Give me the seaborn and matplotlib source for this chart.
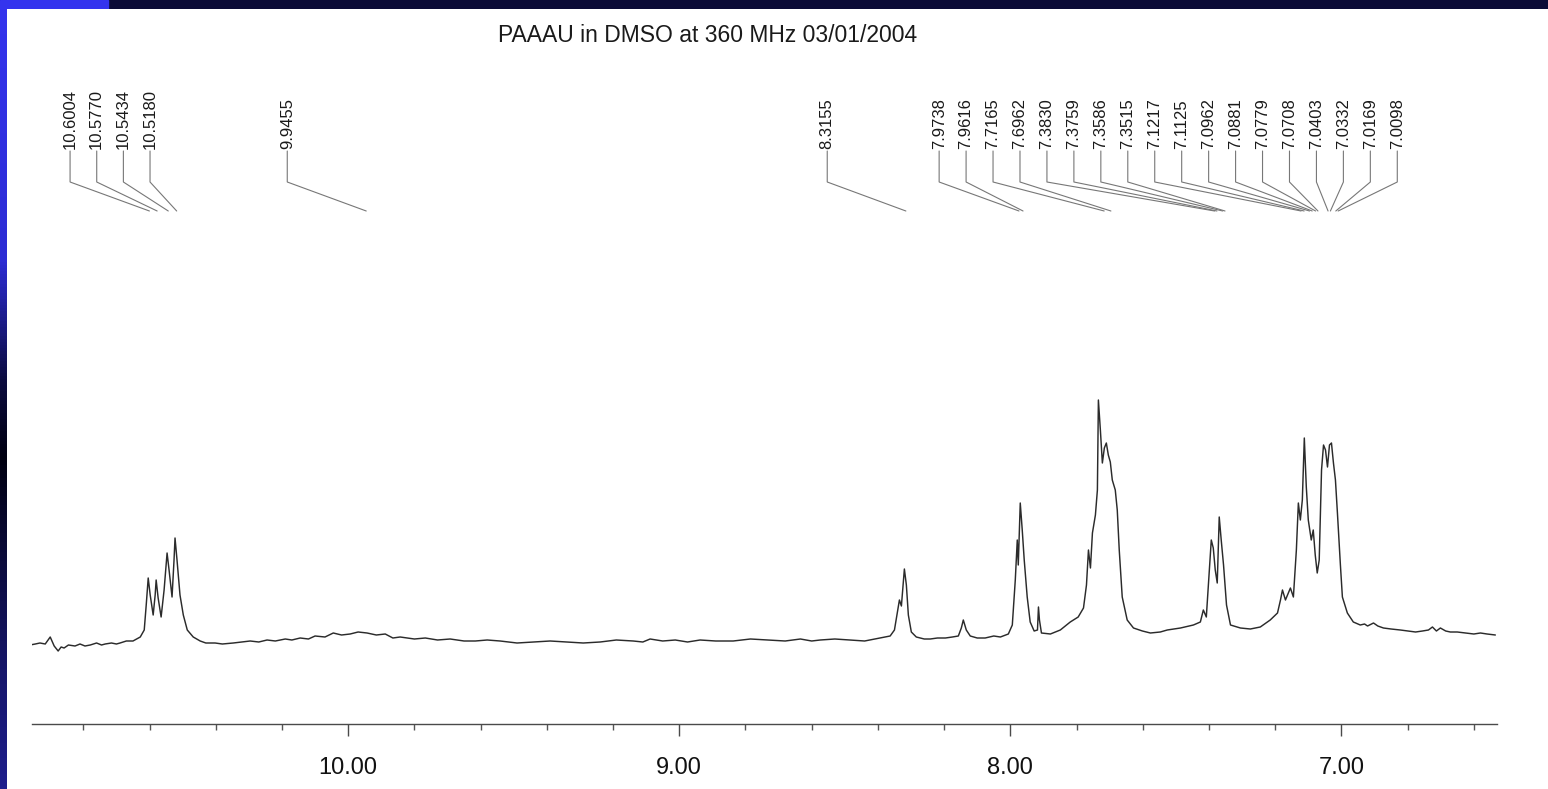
import numpy as np
import matplotlib
matplotlib.use("Agg")
import matplotlib.pyplot as plt
import seaborn as sns
import pandas as pd
from matplotlib.colors import LinearSegmentedColormap

# ---------------- data ----------------
title = "PAAAU in DMSO at 360 MHz 03/01/2004"

peak_ppm = [10.6004, 10.5770, 10.5434, 10.5180, 9.9455, 8.3155, 7.9738, 7.9616,
            7.7165, 7.6962, 7.3830, 7.3759, 7.3586, 7.3515, 7.1217, 7.1125,
            7.0962, 7.0881, 7.0779, 7.0708, 7.0403, 7.0332, 7.0169, 7.0098]
peak_text = ["10.6004", "10.5770", "10.5434", "10.5180", "9.9455", "8.3155",
             "7.9738", "7.9616", "7.7165", "7.6962", "7.3830", "7.3759",
             "7.3586", "7.3515", "7.1217", "7.1125", "7.0962", "7.0881",
             "7.0779", "7.0708", "7.0403", "7.0332", "7.0169", "7.0098"]

major_ticks = [10.0, 9.0, 8.0, 7.0]
minor_ticks = [10.8, 10.6, 10.4, 10.2, 9.8, 9.6, 9.4, 9.2, 8.8, 8.6, 8.4, 8.2,
               7.8, 7.6, 7.4, 7.2, 6.8, 6.6]

# traced spectrum (chemical shift in ppm, intensity in arbitrary units)
shift_ppm = [
    10.961, 10.945, 10.931, 10.915, 10.900, 10.888, 10.876, 10.867, 10.858, 10.845,
    10.825, 10.810, 10.795, 10.779, 10.760, 10.745, 10.734, 10.715, 10.700, 10.689,
    10.670, 10.650, 10.628, 10.616, 10.610, 10.604, 10.598, 10.589, 10.583, 10.580,
    10.574, 10.565, 10.556, 10.547, 10.541, 10.532, 10.526, 10.523, 10.517, 10.508,
    10.498, 10.486, 10.468, 10.447, 10.430, 10.402, 10.380, 10.347, 10.320, 10.296,
    10.270, 10.245, 10.220, 10.190, 10.170, 10.145, 10.120, 10.100, 10.070, 10.045,
    10.020, 9.994, 9.970, 9.943, 9.915, 9.888, 9.865, 9.843, 9.800, 9.767,
    9.730, 9.692, 9.650, 9.616, 9.580, 9.541, 9.490, 9.441, 9.390, 9.338,
    9.290, 9.239, 9.190, 9.139, 9.110, 9.088, 9.050, 9.012, 8.975, 8.937,
    8.890, 8.837, 8.785, 8.734, 8.680, 8.634, 8.600, 8.574, 8.530, 8.483,
    8.440, 8.393, 8.363, 8.350, 8.341, 8.335, 8.329, 8.320, 8.314, 8.308,
    8.299, 8.284, 8.260, 8.242, 8.220, 8.196, 8.175, 8.157, 8.148, 8.142,
    8.133, 8.121, 8.100, 8.076, 8.050, 8.030, 8.006, 7.994, 7.985, 7.979,
    7.976, 7.970, 7.964, 7.958, 7.949, 7.940, 7.928, 7.918, 7.915, 7.912,
    7.906, 7.879, 7.849, 7.819, 7.795, 7.779, 7.770, 7.764, 7.758, 7.752,
    7.743, 7.737, 7.734, 7.728, 7.722, 7.716, 7.710, 7.704, 7.698, 7.692,
    7.683, 7.677, 7.671, 7.662, 7.647, 7.628, 7.601, 7.577, 7.547, 7.526,
    7.486, 7.447, 7.426, 7.417, 7.408, 7.399, 7.393, 7.387, 7.381, 7.375,
    7.369, 7.363, 7.356, 7.347, 7.335, 7.305, 7.275, 7.245, 7.215, 7.193,
    7.184, 7.178, 7.169, 7.154, 7.145, 7.136, 7.130, 7.124, 7.118, 7.112,
    7.106, 7.100, 7.091, 7.085, 7.079, 7.073, 7.067, 7.060, 7.054, 7.048,
    7.042, 7.036, 7.030, 7.024, 7.018, 7.012, 7.003, 6.997, 6.982, 6.964,
    6.943, 6.930, 6.921, 6.903, 6.890, 6.873, 6.850, 6.822, 6.800, 6.776,
    6.755, 6.737, 6.725, 6.713, 6.701, 6.685, 6.671, 6.650, 6.625, 6.600,
    6.580, 6.560, 6.535]
intensity = [
    5, 6, 7, 6, 13, 4, -1, 3, 2, 5,
    4, 6, 4, 5, 7, 5, 6, 7, 6, 7,
    9, 9, 13, 20, 45, 72, 55, 35, 55, 70,
    52, 33, 60, 97, 80, 53, 90, 112, 90, 55,
    35, 20, 13, 9, 7, 7, 6, 7, 8, 9,
    8, 10, 9, 11, 10, 12, 11, 14, 13, 17,
    15, 16, 18, 17, 15, 16, 12, 13, 11, 12,
    10, 11, 9, 9, 10, 9, 7, 8, 9, 8,
    7, 8, 10, 9, 8, 11, 9, 10, 8, 10,
    9, 9, 11, 10, 9, 11, 9, 10, 11, 10,
    9, 12, 14, 20, 38, 50, 44, 81, 65, 35,
    18, 13, 11, 11, 12, 12, 13, 14, 22, 30,
    20, 14, 12, 12, 14, 13, 16, 25, 70, 110,
    85, 147, 120, 90, 53, 28, 19, 20, 43, 30,
    17, 16, 20, 28, 33, 42, 65, 100, 82, 117,
    135, 160, 250, 220, 187, 202, 207, 195, 188, 170,
    160, 140, 100, 53, 30, 22, 19, 17, 18, 20,
    22, 25, 28, 40, 33, 80, 110, 102, 80, 67,
    133, 110, 85, 45, 25, 22, 21, 23, 30, 37,
    50, 60, 50, 62, 53, 100, 147, 130, 150, 212,
    163, 130, 110, 120, 95, 77, 90, 180, 205, 200,
    183, 205, 207, 187, 170, 137, 85, 53, 37, 28,
    25, 26, 24, 27, 24, 22, 21, 20, 19, 18,
    19, 20, 23, 19, 22, 19, 18, 18, 17, 16,
    17, 16, 15]

# ---------------- layout ----------------
W, H = 1548, 789
DPI = 100
AX_LEFT_PX, AX_RIGHT_PX = 32, 1497
AX_BOTTOM_PX, AX_TOP_PX = 724, 10
XLIM = (10.955, 6.53)
YLIM = (650 - AX_BOTTOM_PX, 650 - AX_TOP_PX)

# label slots: (first index, count, first slot ppm, slot step)
label_groups = [(0, 4, 10.84, 0.0805), (4, 1, 10.184, 0.0), (5, 1, 8.553, 0.0), (6, 18, 8.215, 0.0814)]
LABEL_BOTTOM_PX, ELBOW_PX, LEADER_END_PX = 149, 182, 211

sns.set_theme(style="white")
plt.rcParams["font.family"] = ["Liberation Sans", "DejaVu Sans"]

fig = plt.figure(figsize=(W / DPI, H / DPI), dpi=DPI, facecolor="white")

# decorative frame: left gradient strip and top band
strip = fig.add_axes([0, 0, 7 / W, 1])
cmap = LinearSegmentedColormap.from_list(
    "strip", [(0.0, "#3434ee"), (0.33, "#2c2cd4"), (0.48, "#0c0c40"), (0.58, "#000010"),
              (0.70, "#0a0a38"), (0.85, "#16166a"), (1.0, "#1e1e8c")])
strip.imshow(np.linspace(0, 1, 256).reshape(-1, 1), aspect="auto", cmap=cmap)
strip.set_axis_off()

top = fig.add_axes([0, 1 - 9 / H, 1, 9 / H])
top.set_axis_off()
top.add_patch(plt.Rectangle((0, 0), 1, 1, color="#0b0b36", zorder=0, transform=top.transAxes))
top.add_patch(plt.Rectangle((0, 0), 108 / W, 1, color="#3434ee", zorder=1, transform=top.transAxes))

ax = fig.add_axes([AX_LEFT_PX / W, (H - AX_BOTTOM_PX) / H,
                   (AX_RIGHT_PX - AX_LEFT_PX) / W, (AX_BOTTOM_PX - AX_TOP_PX) / H])
ax.set_facecolor("none")

df = pd.DataFrame({"ppm": shift_ppm, "I": intensity})
sns.lineplot(data=df, x="ppm", y="I", sort=False, estimator=None, ax=ax,
             color="#2b2b2b", linewidth=1.05)

ax.set_xlim(*XLIM)
ax.set_ylim(*YLIM)
ax.set_xlabel("")
ax.set_ylabel("")
ax.set_yticks([])
for s in ["left", "right", "top"]:
    ax.spines[s].set_visible(False)
ax.spines["bottom"].set_color("#4a4a4a")
ax.spines["bottom"].set_linewidth(1.0)

ax.set_xticks(major_ticks)
ax.set_xticklabels([f"{v:.2f}" for v in major_ticks])
ax.set_xticks(minor_ticks, minor=True)
ax.tick_params(axis="x", which="both", bottom=True, top=False)
ax.tick_params(axis="x", which="major", direction="out", length=12 * 0.72, width=1.0,
               color="#4a4a4a", pad=15, labelsize=17, labelcolor="#111111")
ax.tick_params(axis="x", which="minor", direction="out", length=6 * 0.72, width=1.0,
               color="#555555")


def yax(px):
    return (AX_BOTTOM_PX - px) / (AX_BOTTOM_PX - AX_TOP_PX)


trans = ax.get_xaxis_transform()
for start, count, first, step in label_groups:
    for k in range(count):
        i = start + k
        slot = first - k * step
        ax.text(slot, yax(LABEL_BOTTOM_PX), peak_text[i], rotation=90, ha="center",
                va="bottom", fontsize=12, color="#1a1a1a", transform=trans, clip_on=False)
        ax.plot([slot, slot, peak_ppm[i]],
                [yax(LABEL_BOTTOM_PX + 2), yax(ELBOW_PX), yax(LEADER_END_PX)],
                color="#777777", lw=0.8, transform=trans, clip_on=False)

fig.text(708 / W, 1 - 35 / H, title, ha="center", va="center", fontsize=16.5, color="#1a1a1a")

fig.savefig("out.png", dpi=DPI, facecolor="white")
